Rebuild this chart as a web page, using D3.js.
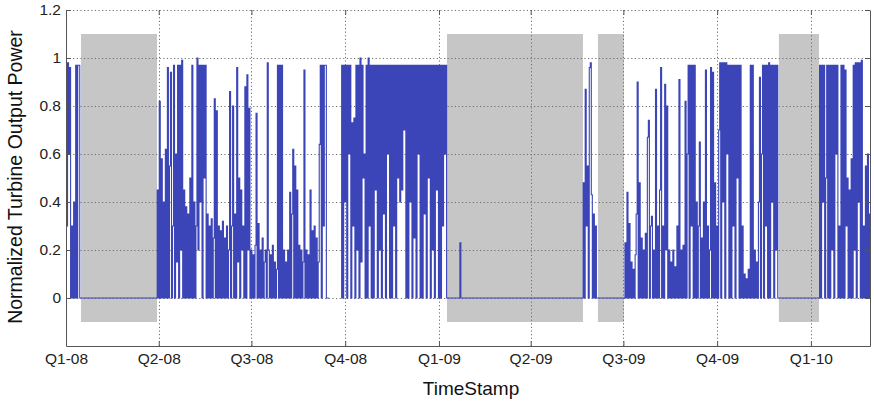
<!DOCTYPE html>
<html lang="en">
<head>
<meta charset="utf-8">
<title>Normalized Turbine Output Power</title>
<script src="https://cdn.jsdelivr.net/npm/d3@7"></script>
<style>
body{margin:0;background:#fff;}
text{font-family:"Liberation Sans",Arial,sans-serif;}
</style>
</head>
<body>
<script>
// x runs in days since 1 Jan 2008
var quarterDays = [0, 91, 182, 274, 366, 456, 547, 639, 731];
var quarterLabels = ["Q1-08","Q2-08","Q3-08","Q4-08","Q1-09","Q2-09","Q3-09","Q4-09","Q1-10"];
var yTicks = [0, 0.2, 0.4, 0.6, 0.8, 1, 1.2];

// grey bands (turbine stopped), start / end day
var shadeStart = [14.7, 373.9, 522.0, 699.6];
var shadeEnd   = [89.3, 507.3, 547.5, 738.9];

// daily samples, each block begins on segStart[i]
var powerA = [0.97,0.3,0.98,0.6,0.96,0,0.3,0,0.4,0,0.97,0,0.97,0.97,0];
var powerB = [
  0,0.45,0,0.82,0,0.58,0,0.4,0,0.62,
  0,0.96,0,0.55,0.94,0,0.3,0.97,0,0.6,
  0.15,0.97,0,0.97,0.2,0.99,0,0.45,0,0.38,
  0,0.35,0,0.5,0,0.97,0,0.4,0,0.3,
  1.0,0.2,0.97,0.4,0.97,0,0.97,0.5,0.97,0,
  0.35,0,0.3,0,0.33,0,0.25,0.83,0,0.78,
  0,0.3,0,0.28,0,0.32,0,0.25,0,0.3,
  0,0.2,0.86,0,0.3,0.8,0,0.35,0,0.96,
  0.15,0.5,0,0.45,0.2,0.3,0,0.88,0,0.93,
  0.2,0.79,0,0.2,0,0.18,0,0.22,0.77,0,
  0.31,0,0.2,0,0.25,0,0.15,0.2,0,0.98,
  0.2,0,0.18,0,0.22,0,0.15,0,0.12,0.97,
  0,0.97,0,0.97,0,0.2,0,0.15,0,0.2,
  0,0.44,0,0.35,0.62,0,0.55,0,0.45,0,
  0.22,0,0.2,0,0.15,0.95,0,0.2,0,0.18,
  0,0.45,0,0.28,0,0.3,0,0.25,0,0.15,
  0.64,0.97,0,0.97,0.3,0.97,0.97,0,0,0];
var powerC = [
  0,0.97,0,0.97,0.4,0.97,0,0.97,0.6,0.97,
  0,0.73,0.3,0.75,0,0.97,0.2,0.97,0,1.0,
  0.15,0.97,0.5,0.6,0,0.97,0,1.0,0.3,0.97,
  0,0.97,0,0.97,0.45,0.97,0,0.97,0.2,0.97,
  0,0.97,0.35,0.97,0,0.97,0.6,0.97,0,0.97,
  0,0.97,0.3,0.97,0,0.97,0.5,0.97,0.4,0.97,
  0.45,0.97,0.7,0.97,0,0.97,0,0.97,0.4,0.97,
  0,0.97,0.25,0.97,0,0.97,0.6,0.97,0,0.97,
  0,0.97,0.35,0.97,0,0.97,0.5,0.97,0,0.97,
  0.2,0.97,0,0.97,0.45,0.97,0,0.97,0,0.97,
  0.3,0.97,0.6,0.97,0];
var powerSpike = [0,0.23,0];
var powerD = [0,0.48,0,0.87,0.3,0.55,0,0.96,0.98,0.43,0,0.35,0,0.3,0,0];
var powerE = [
  0,0.23,0,0.44,0,0.31,0,0.15,0,0.12,
  0,0.18,0.35,0.9,0,0.48,0,0.25,0,0.2,
  0,0.27,0,0.67,0.74,0,0.3,0.34,0,0.2,
  0,0.87,0,0.3,0,0.45,0.96,0,0.3,0,
  0.89,0.2,0.8,0,0.2,0,0.15,0,0.2,0,
  0.13,0,0.3,0,0.91,0,0.2,0,0.22,0,
  0.82,0,0.6,0.97,0,0.97,0.3,0.97,0,0.97,
  0,0.4,0,0.3,0.65,0,0.25,0,0.4,0,
  0.95,0,0.3,0,0.2,0.96,0,0.94,0,0.48,
  0,0.3,0,0.7,0.98,0,0.98,0.4,0.98,0,
  0.98,0.6,0.97,0,0.97,0,0.97,0.3,0.97,0,
  0.97,0.5,0.97,0,0.97,0,0.3,0,0.1,0,
  0.08,0,0.12,0,0.97,0,0.97,0,0.2,0,
  0.15,0,0.4,0.92,0,0.6,0.97,0,0.97,0.3,
  0.97,0,0.98,0,0.97,0.4,0.97,0,0.97,0.2,
  0.97,0,0];
var powerF = [
  0,0.97,0,0.97,0.4,0.97,0,0.5,0.97,0,
  0.97,0,0.97,0.2,0.97,0,0.97,0.6,0.97,0,
  0.3,0,0.97,0,0.97,0,0.95,0.3,0.5,0,
  0.45,0,0.58,0,0.97,0.2,0.98,0,0.98,0.4,
  0.98,0,0.99,0,0.3,0,0.55,0,0.6,0,
  0.35];
var segments = [powerA, powerB, powerC, powerSpike, powerD, powerE, powerF];
var segStart = [0, 89, 270, 386, 507, 548, 739];
var gapDays = [264]; // no data recorded here

var w = 874, h = 403;
var plotL = 66, plotR = 870, plotT = 10, plotB = 346;

var x = d3.scaleLinear().domain([0, 789]).range([plotL, plotR]);
var y = d3.scaleLinear().domain([-0.2, 1.2]).range([plotB, plotT]);

var points = [];
segments.forEach(function(vals, s){
  vals.forEach(function(v, k){ points.push({day: segStart[s] + k, value: v}); });
});
gapDays.forEach(function(d){ points.push({day: d, value: null}); });
points.sort(function(a, b){ return a.day - b.day; });

var svg = d3.select("body").append("svg")
  .attr("width", w).attr("height", h);

svg.append("defs").append("clipPath").attr("id", "plot")
  .append("rect").attr("x", plotL).attr("y", plotT)
  .attr("width", plotR - plotL).attr("height", plotB - plotT);

// grey stop periods
svg.selectAll("rect.shade")
  .data(shadeStart)
  .enter()
  .append("rect")
  .attr("class", "shade")
  .attr("x", function(d){ return x(d); })
  .attr("width", function(d, i){ return x(shadeEnd[i]) - x(d); })
  .attr("y", y(1.1))
  .attr("height", y(-0.1) - y(1.1))
  .attr("fill", "#c6c6c6");

// dotted grid
var grid = svg.append("g").attr("stroke", "#6e6e6e").attr("stroke-width", 1)
  .attr("stroke-dasharray", "1.2,2.4");
grid.selectAll("line.gx")
  .data(quarterDays.slice(1))
  .enter().append("line")
  .attr("x1", function(d){ return Math.round(x(d)) + 0.5; })
  .attr("x2", function(d){ return Math.round(x(d)) + 0.5; })
  .attr("y1", plotT).attr("y2", plotB);
grid.selectAll("line.gy")
  .data(yTicks)
  .enter().append("line")
  .attr("y1", function(d){ return Math.round(y(d)) + 0.5; })
  .attr("y2", function(d){ return Math.round(y(d)) + 0.5; })
  .attr("x1", plotL).attr("x2", plotR);

// turbine output
var line = d3.line()
  .defined(function(d){ return d.value !== null; })
  .curve(d3.curveStep)
  .x(function(d){ return x(d.day); })
  .y(function(d){ return y(d.value); });

svg.append("path")
  .datum(points)
  .attr("clip-path", "url(#plot)")
  .attr("fill", "none")
  .attr("stroke", "#3b45b8")
  .attr("stroke-width", 1.1)
  .attr("d", line);

// axes, ticks pointing inward
function styleAxis(g){
  g.selectAll("path.domain").attr("stroke", "#555");
  g.selectAll(".tick line").attr("stroke", "#555");
  g.selectAll("text").attr("fill", "#222").attr("font-size", "15.5px")
    .attr("font-family", "'Liberation Sans', Arial, sans-serif");
}

svg.append("g")
  .attr("transform", "translate(" + plotL + ",0)")
  .call(d3.axisLeft(y).tickValues(yTicks).tickFormat(d3.format("~g"))
    .tickSizeInner(-5).tickSizeOuter(0).tickPadding(5))
  .call(styleAxis);

svg.append("g")
  .attr("transform", "translate(" + plotR + ",0)")
  .call(d3.axisRight(y).tickValues(yTicks).tickFormat("")
    .tickSizeInner(-5).tickSizeOuter(0))
  .call(styleAxis);

svg.append("g")
  .attr("transform", "translate(0," + plotB + ")")
  .call(d3.axisBottom(x).tickValues(quarterDays)
    .tickFormat(function(d, i){ return quarterLabels[i]; })
    .tickSizeInner(-5).tickSizeOuter(0).tickPadding(7))
  .call(styleAxis);

var topAxis = svg.append("g")
  .attr("transform", "translate(0," + plotT + ")")
  .call(d3.axisTop(x).tickValues(quarterDays).tickFormat("")
    .tickSizeInner(-5).tickSizeOuter(0))
  .call(styleAxis);
topAxis.select("path.domain").remove();

// axis titles
svg.append("text")
  .attr("x", (plotL + plotR) / 2 + 3)
  .attr("y", 395)
  .attr("text-anchor", "middle")
  .attr("font-size", "19px")
  .attr("fill", "#111")
  .text("TimeStamp");

svg.append("text")
  .attr("transform", "translate(22,177) rotate(-90)")
  .attr("text-anchor", "middle")
  .attr("font-size", "19.5px")
  .attr("fill", "#111")
  .text("Normalized Turbine Output Power");
</script>
</body>
</html>
